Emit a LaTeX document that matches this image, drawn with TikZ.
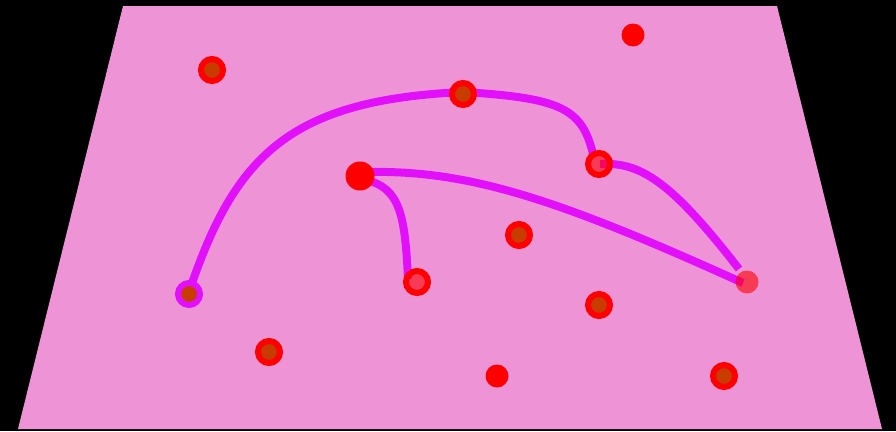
\documentclass[tikz,border=0pt]{standalone}
\definecolor{bgpink}{RGB}{238,148,214}
\definecolor{linemag}{RGB}{226,16,250}
\definecolor{dotbrown}{RGB}{200,60,0}
\tikzset{
  wire/.style={draw=linemag, line width=8pt, line cap=butt},
  ringdot/.style={circle, inner sep=0pt, minimum size=22pt, draw=red, line width=6pt, fill=dotbrown},
  magringdot/.style={circle, inner sep=0pt, minimum size=22pt, draw=linemag, line width=6pt, fill=dotbrown},
  lightringdot/.style={circle, inner sep=0pt, minimum size=22pt, draw=red, line width=6pt, fill=red, fill opacity=0.6, draw opacity=1},
  soliddot/.style={circle, inner sep=0pt, minimum size=#1, fill=red},
  soliddot/.default=23pt,
  lightdot/.style={circle, inner sep=0pt, minimum size=23pt, fill=red, fill opacity=0.6}
}
\begin{document}
\begin{tikzpicture}[x=1pt,y=-1pt]
\fill[black] (0,0) rectangle (896,431);
\useasboundingbox (0,0) rectangle (896,431);
\fill[bgpink] (123,6) -- (777,6) -- (882,429) -- (18,429) -- cycle;
% centres
\coordinate (cA) at (212,70);
\coordinate (cB) at (633,35);
\coordinate (cC) at (463,94);
\coordinate (cD) at (599,164);
\coordinate (cE) at (360,176);
\coordinate (cF) at (519,235);
\coordinate (cG) at (189,294);
\coordinate (cH) at (417,282);
\coordinate (cI) at (747,282);
\coordinate (cJ) at (599,305);
\coordinate (cK) at (269,352);
\coordinate (cL) at (497,376);
\coordinate (cM) at (724,376);
% line end points
\coordinate (eG) at (189,292);
\coordinate (eC) at (463,92);
\coordinate (eD2) at (593,154);
\coordinate (eD3) at (600,164);
\coordinate (eI3) at (739,269);
\coordinate (eE4) at (368,172);
\coordinate (eI4) at (743,283);
\coordinate (eE5) at (366,180);
\coordinate (eH5) at (408,279);
% connectors
\draw[wire] (eG) .. controls (235,155) and (290,100) .. (eC);
\draw[wire] (eC) .. controls (560,98) and (582,108) .. (eD2);
\draw[wire] (eD3) .. controls (640,162) and (670,180) .. (eI3);
\draw[wire] (eE4) .. controls (470,170) and (560,200) .. (eI4);
\draw[wire] (eE5) .. controls (400,188) and (405,215) .. (eH5);
% dots
\node[ringdot] (A) at (cA) {};
\node[soliddot] (B) at (cB) {};
\node[ringdot] (C) at (cC) {};
\node[lightringdot] (D) at (cD) {};
\node[soliddot=29pt] (E) at (cE) {};
\node[ringdot] (F) at (cF) {};
\node[magringdot] (G) at (cG) {};
\node[lightringdot] (H) at (cH) {};
\node[lightdot] (I) at (cI) {};
\node[ringdot] (J) at (cJ) {};
\node[ringdot] (K) at (cK) {};
\node[soliddot] (L) at (cL) {};
\node[ringdot] (M) at (cM) {};
\end{tikzpicture}
\end{document}
